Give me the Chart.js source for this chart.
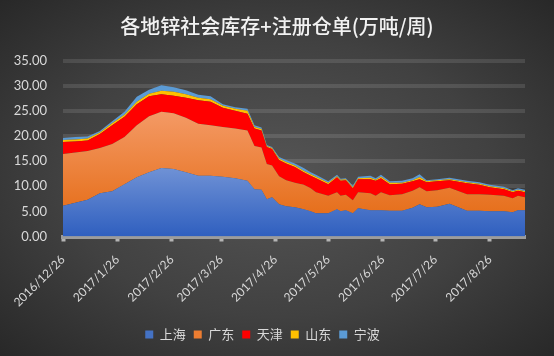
<!DOCTYPE html>
<html>
<head>
<meta charset="utf-8">
<script src="https://cdn.jsdelivr.net/npm/chart.js@4/dist/chart.umd.min.js"></script>
<style>
  html, body { margin: 0; padding: 0; }
  body {
    width: 554px; height: 356px; overflow: hidden;
    background: radial-gradient(ellipse at 50% 50%, #555555 0%, #414141 55%, #282828 100%);
  }
  canvas { display: block; }
</style>
</head>
<body>
<canvas id="c" width="554" height="356"></canvas>
<script>
// ---- data ----
const dates = ['2016/12/26','2017/1/2','2017/1/9','2017/1/16','2017/1/23','2017/1/30','2017/2/6','2017/2/13','2017/2/20','2017/2/27',
  '2017/3/6','2017/3/13','2017/3/20','2017/3/27','2017/4/3','2017/4/10','2017/4/14','2017/4/18','2017/4/21','2017/4/24',
  '2017/4/28','2017/5/2','2017/5/7','2017/5/12','2017/5/16','2017/5/19','2017/5/26','2017/5/31','2017/6/2','2017/6/5',
  '2017/6/9','2017/6/12','2017/6/19','2017/6/22','2017/6/25','2017/6/30','2017/7/7','2017/7/13','2017/7/17','2017/7/21',
  '2017/7/27','2017/8/3','2017/8/13','2017/8/20','2017/8/26','2017/9/3','2017/9/8','2017/9/11','2017/9/15'];
const shanghai = [6.1,6.7,7.3,8.6,9.0,10.4,11.8,12.8,13.6,13.4, 12.8,12.1,12.1,11.9,11.6,11.1,9.4,9.3,7.4,7.8,
  6.4,6.0,5.8,5.4,5.0,4.6,4.6,5.4,5.0,5.2, 4.6,5.6,5.2,5.2,5.2,5.1,5.1,5.7,6.4,5.8, 5.9,6.5,5.1,5.1,5.0,5.0,4.8,5.2,5.2];
const guangdong = [10.3,10.0,9.7,9.0,9.4,9.4,10.3,11.1,11.2,11.1, 10.8,10.3,10.0,9.9,9.9,10.0,8.6,8.4,7.0,6.3,
  5.6,5.2,4.9,4.9,4.6,4.2,3.5,3.4,3.1,3.1, 2.6,3.2,3.4,2.9,3.6,3.1,3.3,3.4,3.4,3.2, 3.3,3.2,3.3,3.3,3.3,3.1,2.8,2.9,2.6];
const tianjin = [2.4,2.2,2.1,2.8,3.7,4.0,4.2,4.0,3.5,3.5, 4.0,4.7,4.7,3.8,3.5,3.3,3.5,3.4,3.4,3.3,
  3.2,3.3,3.1,2.5,2.5,2.8,2.3,3.0,3.0,2.9, 2.4,2.6,2.8,3.0,2.8,2.2,2.1,1.9,1.6,1.8, 1.8,1.5,2.2,1.9,1.5,1.3,1.2,1.0,1.0];
const shandong = [0.4,0.4,0.4,0.3,0.4,0.4,0.5,0.5,0.7,0.8, 0.7,0.5,0.5,0.4,0.4,0.6,0.3,0.3,0.2,0.2,
  0.3,0.3,0.3,0.3,0.3,0.3,0.3,0.2,0.2,0.2, 0.2,0.2,0.3,0.2,0.3,0.3,0.2,0.2,0.4,0.2, 0.2,0.2,0.2,0.2,0.2,0.2,0.2,0.2,0.2];
const ningbo = [0.4,0.5,0.4,0.3,0.4,0.6,1.0,0.8,1.1,0.9, 0.8,0.6,0.6,0.3,0.3,0.4,0.3,0.3,0.2,0.2,
  0.3,0.4,0.4,0.5,0.4,0.4,0.3,0.3,0.2,0.2, 0.3,0.3,0.4,0.3,0.4,0.3,0.4,0.4,0.6,0.2, 0.2,0.3,0.3,0.3,0.3,0.3,0.2,0.3,0.3];
const seriesNames = ['上海','广东','天津','山东','宁波'];
const tickDates = ['2016/12/26','2017/1/26','2017/2/26','2017/3/26','2017/4/26','2017/5/26','2017/6/26','2017/7/26','2017/8/26'];
const titleText = '各地锌社会库存+注册仓单(万吨/周)';

// ---- helpers ----
function toUTC(s){ const p = s.split('/').map(Number); return Date.UTC(p[0], p[1]-1, p[2]); }
const t0 = toUTC(dates[0]);
const dayOf = s => Math.round((toUTC(s) - t0) / 86400000);
const xs = dates.map(dayOf);
const tickDays = tickDates.map(dayOf);
const tickLabelMap = {}; tickDays.forEach((d,i)=>{ tickLabelMap[d] = tickDates[i]; });
const toPts = arr => arr.map((v,i)=>({x: xs[i], y: v}));

function vGrad(topColor, botColor, topVal, botVal){
  return function(ctx){
    const chart = ctx.chart; const area = chart.chartArea;
    if (!area) return botColor;
    const y = chart.scales.y;
    const g = chart.ctx.createLinearGradient(0, y.getPixelForValue(topVal), 0, y.getPixelForValue(botVal));
    g.addColorStop(0, topColor); g.addColorStop(1, botColor);
    return g;
  };
}

const legendColors = ['#4472c4','#ed7d31','#ff0000','#ffc000','#5b9bd5'];
const fills = [
  vGrad('#7193d6', '#2f5fbf', 14, 0),
  vGrad('#f49a66', '#e56c16', 25, 3),
  '#ff0000', '#ffc000', '#5b9bd5'
];
const seriesData = [shanghai, guangdong, tianjin, shandong, ningbo];

const FONT = "Lato, 'Noto Sans CJK SC', sans-serif";
const TXT = '#d9d9d9';

// centre the title over the whole canvas (the chart box is inset on the right)
const fullWidthTitle = {
  id: 'fullWidthTitle',
  afterLayout(chart) {
    const t = chart.titleBlock;
    if (t) { t.left = 0; t.right = chart.width; t.width = chart.width; }
  }
};

new Chart(document.getElementById('c'), {
  type: 'line',
  plugins: [fullWidthTitle],
  data: {
    datasets: seriesData.map((arr, i) => ({
      label: seriesNames[i],
      data: toPts(arr),
      backgroundColor: fills[i],
      borderWidth: 0,
      borderColor: 'rgba(0,0,0,0)',
      pointRadius: 0,
      tension: 0,
      fill: i === 0 ? 'origin' : '-1',
      legendColor: legendColors[i]
    }))
  },
  options: {
    responsive: false,
    animation: false,
    layout: { padding: { left: 0, right: 29, top: 0, bottom: 5 } },
    plugins: {
      tooltip: { enabled: false },
      title: {
        display: true, text: titleText, color: '#f2f2f2',
        font: { family: "'Noto Sans CJK SC', sans-serif", size: 20, weight: '500' },
        padding: { top: 14, bottom: 22.5 }
      },
      legend: {
        position: 'bottom',
        labels: {
          color: TXT, boxWidth: 8, boxHeight: 8, padding: 8,
          font: { family: "'Noto Sans CJK SC', sans-serif", size: 13 },
          generateLabels: (chart) => chart.data.datasets.map((ds, i) => ({
            text: ds.label, fillStyle: ds.legendColor, strokeStyle: ds.legendColor,
            lineWidth: 0, fontColor: TXT, datasetIndex: i, hidden: false
          }))
        }
      }
    },
    scales: {
      x: {
        type: 'linear',
        min: 0, max: Math.max(...xs),
        afterBuildTicks: (scale) => { scale.ticks = tickDays.map(v => ({ value: v })); },
        afterFit: (scale) => { scale.height = 83.5; },
        ticks: {
          autoSkip: false, minRotation: 45, maxRotation: 45, color: TXT, padding: 11,
          font: { family: FONT, size: 12 },
          callback: (v) => tickLabelMap[v] || ''
        },
        grid: { drawOnChartArea: false, drawTicks: true, tickLength: 5, tickWidth: 4, tickColor: '#b4b4b4' },
        border: { display: true, color: '#9c9c9c', width: 4 }
      },
      y: {
        stacked: true,
        min: 0, max: 35,
        afterFit: (scale) => { scale.width = 63; },
        ticks: { stepSize: 5, color: TXT, padding: 16, font: { family: FONT, size: 13 },
          callback: (v) => Number(v).toFixed(2) },
        grid: { color: 'rgba(255,255,255,0.11)', lineWidth: 4, drawTicks: false },
        border: { display: false }
      }
    }
  }
});
</script>
</body>
</html>
